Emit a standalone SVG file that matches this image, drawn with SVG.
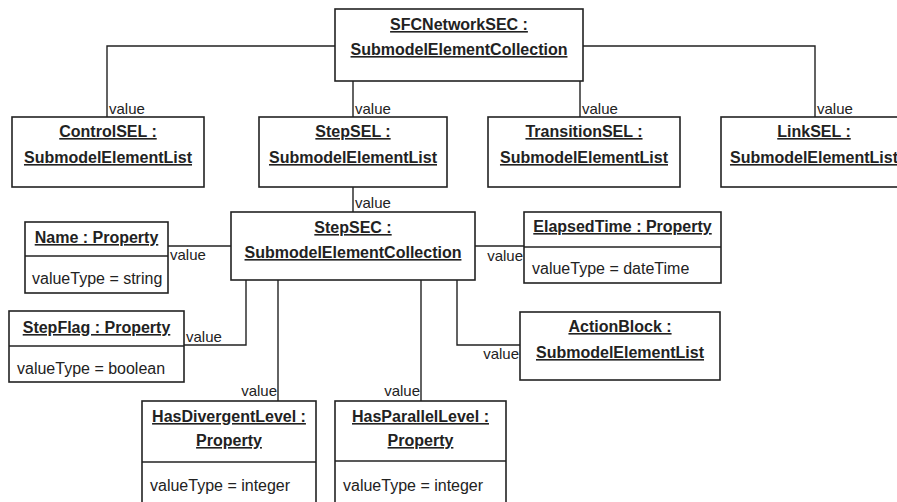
<svg xmlns="http://www.w3.org/2000/svg" width="897" height="502" viewBox="0 0 897 502">
<style>
.box{fill:#fff;stroke:#222;stroke-width:1.6}
.div{stroke:#222;stroke-width:1.6}
.conn{fill:none;stroke:#222;stroke-width:1.4}
.t{font-family:"Liberation Sans",Arial,sans-serif;font-size:16px;font-weight:bold;text-decoration:underline;text-anchor:middle;fill:#222}
.a{font-family:"Liberation Sans",Arial,sans-serif;font-size:16px;fill:#222}
.lbl{font-family:"Liberation Sans",Arial,sans-serif;font-size:15px;fill:#222}
.e{text-anchor:end}
</style>
<rect width="897" height="502" fill="#fff"/>
<g id="connectors">
<path class="conn" d="M335,46 H107 V117"/>
<path class="conn" d="M353,81 V117"/>
<path class="conn" d="M580,81 V117"/>
<path class="conn" d="M583,46 H815 V117"/>
<path class="conn" d="M353,187 V212"/>
<path class="conn" d="M168,246 H231"/>
<path class="conn" d="M475,246 H524"/>
<path class="conn" d="M246,280 V345 H184"/>
<path class="conn" d="M457,280 V345 H520"/>
<path class="conn" d="M278,280 V401"/>
<path class="conn" d="M421,280 V401"/>
<text class="lbl" x="109" y="114">value</text>
<text class="lbl" x="355" y="114">value</text>
<text class="lbl" x="582" y="114">value</text>
<text class="lbl" x="817" y="114">value</text>
<text class="lbl" x="355" y="208">value</text>
<text class="lbl" x="170" y="260">value</text>
<text class="lbl e" x="523" y="261">value</text>
<text class="lbl" x="186" y="342">value</text>
<text class="lbl e" x="519" y="359">value</text>
<text class="lbl e" x="277" y="396">value</text>
<text class="lbl e" x="420" y="396">value</text>
</g>
<g id="SFCNetworkSEC">
<rect class="box" x="335" y="9" width="248" height="72"/>
<text class="t" x="459" y="30">SFCNetworkSEC :</text>
<text class="t" x="459" y="55">SubmodelElementCollection</text>
</g>
<g id="ControlSEL">
<rect class="box" x="12" y="117" width="192" height="70"/>
<text class="t" x="108" y="137">ControlSEL :</text>
<text class="t" x="108" y="163">SubmodelElementList</text>
</g>
<g id="StepSEL">
<rect class="box" x="259" y="117" width="188" height="70"/>
<text class="t" x="353" y="137">StepSEL :</text>
<text class="t" x="353" y="163">SubmodelElementList</text>
</g>
<g id="TransitionSEL">
<rect class="box" x="488" y="117" width="192" height="70"/>
<text class="t" x="584" y="137">TransitionSEL :</text>
<text class="t" x="584" y="163">SubmodelElementList</text>
</g>
<g id="LinkSEL">
<rect class="box" x="721" y="117" width="190" height="70"/>
<text class="t" x="814" y="137">LinkSEL :</text>
<text class="t" x="814" y="163">SubmodelElementList</text>
</g>
<g id="StepSEC">
<rect class="box" x="231" y="212" width="244" height="68"/>
<text class="t" x="353" y="233">StepSEC :</text>
<text class="t" x="353" y="258">SubmodelElementCollection</text>
</g>
<g id="Name">
<rect class="box" x="25" y="222" width="143" height="71"/>
<line class="div" x1="25" y1="256" x2="168" y2="256"/>
<text class="t" x="96.5" y="243">Name : Property</text>
<text class="a" x="32" y="284">valueType = string</text>
</g>
<g id="ElapsedTime">
<rect class="box" x="524" y="212" width="197" height="71"/>
<line class="div" x1="524" y1="247" x2="721" y2="247"/>
<text class="t" x="622.5" y="232">ElapsedTime : Property</text>
<text class="a" x="532" y="274">valueType = dateTime</text>
</g>
<g id="StepFlag">
<rect class="box" x="9" y="311" width="175" height="71"/>
<line class="div" x1="9" y1="346" x2="184" y2="346"/>
<text class="t" x="96.5" y="333">StepFlag : Property</text>
<text class="a" x="17" y="374">valueType = boolean</text>
</g>
<g id="ActionBlock">
<rect class="box" x="520" y="312" width="200" height="68"/>
<text class="t" x="620" y="332">ActionBlock :</text>
<text class="t" x="620" y="358">SubmodelElementList</text>
</g>
<g id="HasDivergentLevel">
<rect class="box" x="142" y="401" width="174" height="110"/>
<line class="div" x1="142" y1="462" x2="316" y2="462"/>
<text class="t" x="229" y="422">HasDivergentLevel :</text>
<text class="t" x="229" y="446">Property</text>
<text class="a" x="150" y="491">valueType = integer</text>
</g>
<g id="HasParallelLevel">
<rect class="box" x="335" y="401" width="171" height="110"/>
<line class="div" x1="335" y1="461" x2="506" y2="461"/>
<text class="t" x="420.5" y="422">HasParallelLevel :</text>
<text class="t" x="420.5" y="446">Property</text>
<text class="a" x="343" y="491">valueType = integer</text>
</g>
</svg>
